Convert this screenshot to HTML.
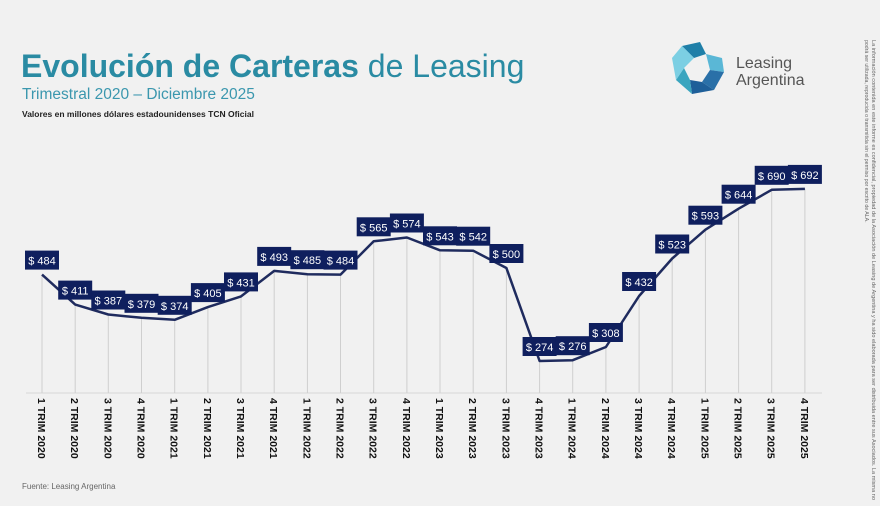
<!DOCTYPE html>
<html><head><meta charset="utf-8"><style>
body{margin:0;background:#f1f1f1;}
svg{display:block;font-family:"Liberation Sans",sans-serif;}
</style></head><body>
<svg width="880" height="506" viewBox="0 0 880 506">
<rect width="880" height="506" fill="#f1f1f1"/>
<text x="21" y="77" font-size="32" fill="#2a8ba3"><tspan font-weight="bold">Evolución de Carteras</tspan> de Leasing</text>
<text x="22" y="99" font-size="15.5" fill="#3b97ae">Trimestral 2020 – Diciembre 2025</text>
<text x="22" y="117" font-size="8.5" font-weight="bold" fill="#222">Valores en millones dólares estadounidenses TCN Oficial</text>
<text x="22" y="489" font-size="8" fill="#666">Fuente: Leasing Argentina</text>
<!-- logo -->
<g transform="translate(700,68)">
<polygon points="-18,-22 0,-26 6,-14 -6,-10" fill="#1f7fa8"/>
<polygon points="6,-14 22,-10 24,4 10,2" fill="#5ab7d6"/>
<polygon points="10,2 24,4 14,22 2,14" fill="#2a70a8"/>
<polygon points="2,14 14,22 -8,26 -10,12" fill="#1e5f99"/>
<polygon points="-10,12 -8,26 -24,12 -16,0" fill="#3aa5bf"/>
<polygon points="-16,0 -24,12 -28,-10 -18,-22 -6,-10" fill="#7ccfe3"/>
<polygon points="-6,-4 4,-6 6,4 -2,8 -8,2" fill="#f1f1f1"/>
</g>
<text x="736" y="68" font-size="16" fill="#555">Leasing</text>
<text x="736" y="85" font-size="16" fill="#555">Argentina</text>
<text transform="translate(872,40) rotate(90)" font-size="5.2" fill="#666" textLength="460" lengthAdjust="spacingAndGlyphs">La información contenida en este informe es confidencial, propiedad de la Asociación de Leasing de Argentina y ha sido elaborada para ser distribuida entre sus Asociados. La misma no</text>
<text transform="translate(865,40) rotate(90)" font-size="5.2" fill="#666">podrá ser utilizada, reproducida o transmitida sin el permiso por escrito de ALA.</text>
<line x1="26" y1="393" x2="822" y2="393" stroke="#d8d8d8" stroke-width="1"/>
<g stroke="#cfcfcf" stroke-width="1">
<line x1="42" y1="274.6" x2="42" y2="393"/><line x1="75.2" y1="304.6" x2="75.2" y2="393"/><line x1="108.3" y1="314.5" x2="108.3" y2="393"/><line x1="141.5" y1="317.8" x2="141.5" y2="393"/><line x1="174.7" y1="319.8" x2="174.7" y2="393"/><line x1="207.9" y1="307.1" x2="207.9" y2="393"/><line x1="241" y1="296.4" x2="241" y2="393"/><line x1="274.2" y1="270.9" x2="274.2" y2="393"/><line x1="307.4" y1="274.2" x2="307.4" y2="393"/><line x1="340.5" y1="274.6" x2="340.5" y2="393"/><line x1="373.7" y1="241.3" x2="373.7" y2="393"/><line x1="406.9" y1="237.5" x2="406.9" y2="393"/><line x1="440" y1="250.3" x2="440" y2="393"/><line x1="473.2" y1="250.7" x2="473.2" y2="393"/><line x1="506.4" y1="268" x2="506.4" y2="393"/><line x1="539.6" y1="361" x2="539.6" y2="393"/><line x1="572.7" y1="360.2" x2="572.7" y2="393"/><line x1="605.9" y1="347" x2="605.9" y2="393"/><line x1="639.1" y1="296" x2="639.1" y2="393"/><line x1="672.2" y1="258.5" x2="672.2" y2="393"/><line x1="705.4" y1="229.7" x2="705.4" y2="393"/><line x1="738.6" y1="208.7" x2="738.6" y2="393"/><line x1="771.7" y1="189.8" x2="771.7" y2="393"/><line x1="804.9" y1="188.9" x2="804.9" y2="393"/>
</g>
<polyline fill="none" stroke="#1f2b5e" stroke-width="2.5" stroke-linejoin="round" points="42,274.6 75.2,304.6 108.3,314.5 141.5,317.8 174.7,319.8 207.9,307.1 241,296.4 274.2,270.9 307.4,274.2 340.5,274.6 373.7,241.3 406.9,237.5 440,250.3 473.2,250.7 506.4,268 539.6,361 572.7,360.2 605.9,347 639.1,296 672.2,258.5 705.4,229.7 738.6,208.7 771.7,189.8 804.9,188.9"/>
<g fill="#0f1f5e">
<rect x="25" y="250.6" width="34" height="19"/><rect x="58.2" y="280.6" width="34" height="19"/><rect x="91.3" y="290.5" width="34" height="19"/><rect x="124.5" y="293.8" width="34" height="19"/><rect x="157.7" y="295.8" width="34" height="19"/><rect x="190.9" y="283.1" width="34" height="19"/><rect x="224" y="272.4" width="34" height="19"/><rect x="257.2" y="246.9" width="34" height="19"/><rect x="290.4" y="250.2" width="34" height="19"/><rect x="323.5" y="250.6" width="34" height="19"/><rect x="356.7" y="217.3" width="34" height="19"/><rect x="389.9" y="213.5" width="34" height="19"/><rect x="423" y="226.3" width="34" height="19"/><rect x="456.2" y="226.7" width="34" height="19"/><rect x="489.4" y="244" width="34" height="19"/><rect x="522.6" y="337" width="34" height="19"/><rect x="555.7" y="336.2" width="34" height="19"/><rect x="588.9" y="323" width="34" height="19"/><rect x="622.1" y="272" width="34" height="19"/><rect x="655.2" y="234.5" width="34" height="19"/><rect x="688.4" y="205.7" width="34" height="19"/><rect x="721.6" y="184.7" width="34" height="19"/><rect x="754.7" y="165.8" width="34" height="19"/><rect x="787.9" y="164.9" width="34" height="19"/>
</g>
<g fill="#fff" font-size="11" text-anchor="middle">
<text x="42" y="264.6">$ 484</text><text x="75.2" y="294.6">$ 411</text><text x="108.3" y="304.5">$ 387</text><text x="141.5" y="307.8">$ 379</text><text x="174.7" y="309.8">$ 374</text><text x="207.9" y="297.1">$ 405</text><text x="241" y="286.4">$ 431</text><text x="274.2" y="260.9">$ 493</text><text x="307.4" y="264.2">$ 485</text><text x="340.5" y="264.6">$ 484</text><text x="373.7" y="231.3">$ 565</text><text x="406.9" y="227.5">$ 574</text><text x="440" y="240.3">$ 543</text><text x="473.2" y="240.7">$ 542</text><text x="506.4" y="258">$ 500</text><text x="539.6" y="351">$ 274</text><text x="572.7" y="350.2">$ 276</text><text x="605.9" y="337">$ 308</text><text x="639.1" y="286">$ 432</text><text x="672.2" y="248.5">$ 523</text><text x="705.4" y="219.7">$ 593</text><text x="738.6" y="198.7">$ 644</text><text x="771.7" y="179.8">$ 690</text><text x="804.9" y="178.9">$ 692</text>
</g>
<g font-size="10.5" font-weight="bold" fill="#111">
<text transform="translate(38,398) rotate(90)">1 TRIM 2020</text><text transform="translate(71.2,398) rotate(90)">2 TRIM 2020</text><text transform="translate(104.3,398) rotate(90)">3 TRIM 2020</text><text transform="translate(137.5,398) rotate(90)">4 TRIM 2020</text><text transform="translate(170.7,398) rotate(90)">1 TRIM 2021</text><text transform="translate(203.9,398) rotate(90)">2 TRIM 2021</text><text transform="translate(237,398) rotate(90)">3 TRIM 2021</text><text transform="translate(270.2,398) rotate(90)">4 TRIM 2021</text><text transform="translate(303.4,398) rotate(90)">1 TRIM 2022</text><text transform="translate(336.5,398) rotate(90)">2 TRIM 2022</text><text transform="translate(369.7,398) rotate(90)">3 TRIM 2022</text><text transform="translate(402.9,398) rotate(90)">4 TRIM 2022</text><text transform="translate(436,398) rotate(90)">1 TRIM 2023</text><text transform="translate(469.2,398) rotate(90)">2 TRIM 2023</text><text transform="translate(502.4,398) rotate(90)">3 TRIM 2023</text><text transform="translate(535.6,398) rotate(90)">4 TRIM 2023</text><text transform="translate(568.7,398) rotate(90)">1 TRIM 2024</text><text transform="translate(601.9,398) rotate(90)">2 TRIM 2024</text><text transform="translate(635.1,398) rotate(90)">3 TRIM 2024</text><text transform="translate(668.2,398) rotate(90)">4 TRIM 2024</text><text transform="translate(701.4,398) rotate(90)">1 TRIM 2025</text><text transform="translate(734.6,398) rotate(90)">2 TRIM 2025</text><text transform="translate(767.7,398) rotate(90)">3 TRIM 2025</text><text transform="translate(800.9,398) rotate(90)">4 TRIM 2025</text>
</g>
</svg>
</body></html>
